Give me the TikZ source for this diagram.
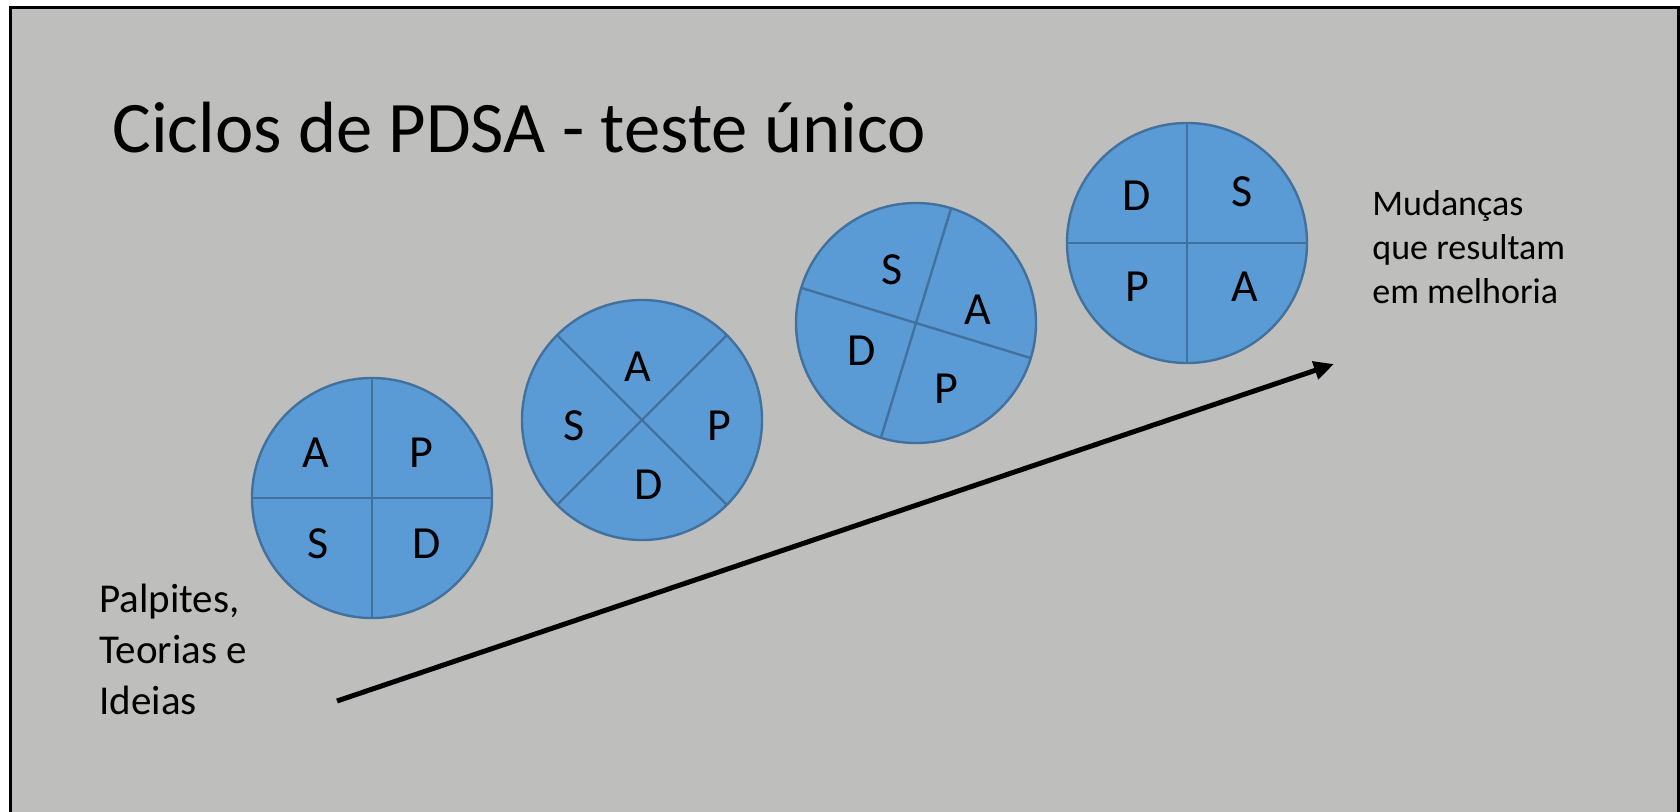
\documentclass[tikz,border=0pt]{standalone}
\usepackage{fontspec}
\setmainfont{Carlito}
\usetikzlibrary{arrows.meta,positioning}
\definecolor{slidegray}{RGB}{190,190,188}
\definecolor{cyclefill}{RGB}{91,155,213}
\definecolor{cycleline}{RGB}{65,113,156}
\tikzset
{
    cyclenode/.style = {circle, draw=cycleline, fill=cyclefill, line width=1.2pt, minimum size=120pt, inner sep=0pt, outer sep=0pt},
    divider/.style   = {draw=cycleline, line width=1.2pt},
    letter/.style    = {inner sep=0pt, font=\fontsize{23}{27}\selectfont},
    note/.style      = {inner sep=0pt, align=left, anchor=base west},
    arrow/.style     = {line width=2.5pt, -{Triangle[length=10pt,width=9pt]}}
}

\begin{document}
\begin{tikzpicture}[x=0.5pt, y=0.5pt]

   \useasboundingbox (0,0) rectangle (1680,811);
   \fill[white] (0,0) rectangle (1680,811);
   \draw[line width=1.5pt, fill=slidegray] (10.5,803.5) rectangle (1678.5,-20);

   \node (title) [anchor=base west, inner sep=0pt, font=\fontsize{36.3}{43}\selectfont] at (112,659) {Ciclos de PDSA - teste único};

   % the four cycles
   \node (c1) [cyclenode] at (372,313)  {};
   \node (c2) [cyclenode] at (642,391)  {};
   \node (c3) [cyclenode] at (916,488)  {};
   \node (c4) [cyclenode] at (1187,568) {};

   \draw[divider] (c1.0)   -- (c1.180);
   \draw[divider] (c1.90)  -- (c1.270);
   \draw[divider] (c2.45)  -- (c2.225);
   \draw[divider] (c2.135) -- (c2.315);
   \draw[divider] (c3.73)  -- (c3.253);
   \draw[divider] (c3.163) -- (c3.343);
   \draw[divider] (c4.0)   -- (c4.180);
   \draw[divider] (c4.90)  -- (c4.270);

   \foreach \l/\dx/\dy in {A/-56/45, P/49/45, S/-54/-46, D/55/-46}
      \node (c1-\l) [letter] at ([shift={(\dx,\dy)}]c1) {\l};
   \foreach \l/\dx/\dy in {A/-4/53, S/-68/-6, P/77/-6, D/7/-65}
      \node (c2-\l) [letter] at ([shift={(\dx,\dy)}]c2) {\l};
   \foreach \l/\dx/\dy in {S/-24/53, A/62/13, D/-54/-28, P/30/-66}
      \node (c3-\l) [letter] at ([shift={(\dx,\dy)}]c3) {\l};
   \foreach \l/\dx/\dy in {D/-50/47, S/55/51, P/-50/-44, A/58/-44}
      \node (c4-\l) [letter] at ([shift={(\dx,\dy)}]c4) {\l};

   % notes at both ends (base = last line)
   \node (start) [note, font=\fontsize{20.5}{25.5}\selectfont] at (99,97)   {Palpites,\\Teorias e\\Ideias};
   \node (goal)  [note, font=\fontsize{18}{22}\selectfont]     at (1372,508) {Mudanças\\que resultam\\em melhoria};

   \coordinate (from) at (337,110);
   \coordinate (to)   at (1334,447);
   \draw[arrow] (from) -- (to);

\end{tikzpicture}
\end{document}
